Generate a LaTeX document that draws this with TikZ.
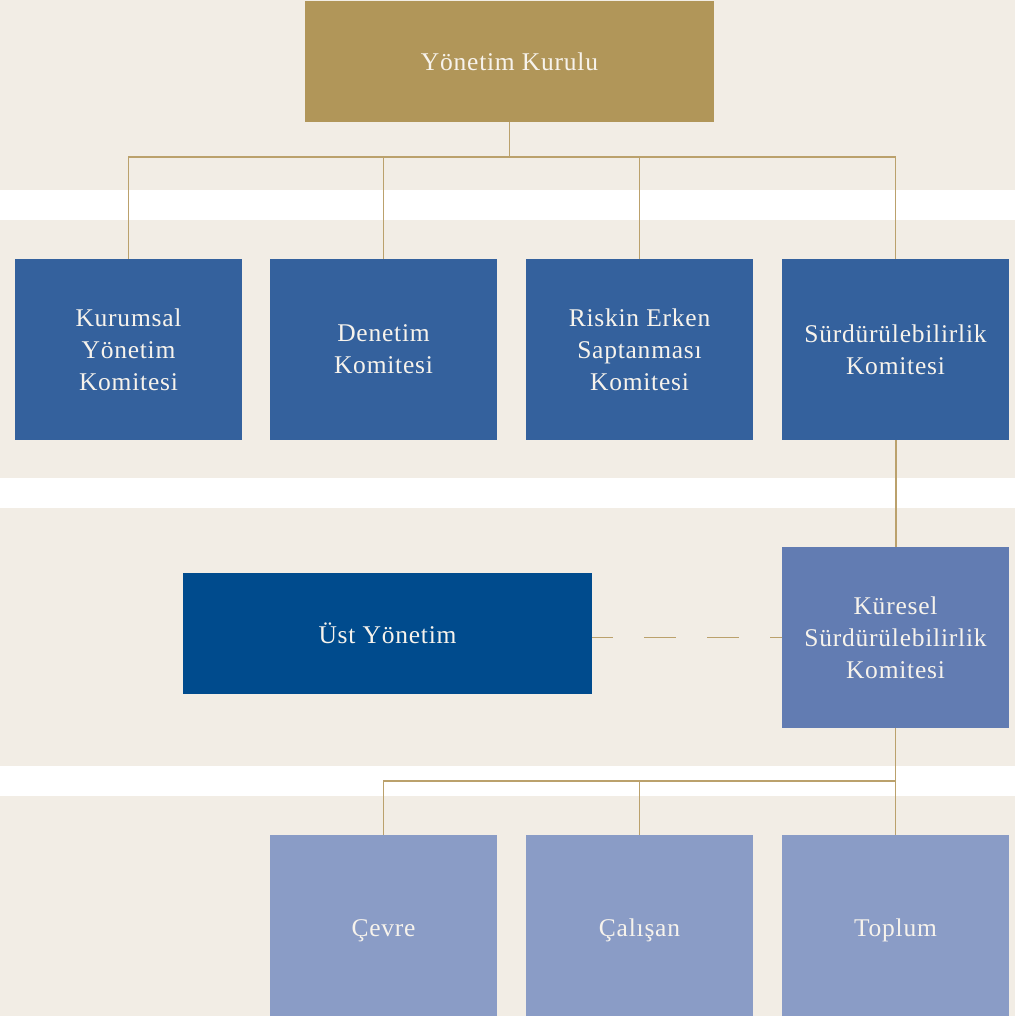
\documentclass[tikz,border=0pt]{standalone}
\usepackage{fontspec}
\setmainfont{Liberation Serif}[LetterSpace=3]
\definecolor{bgbeige}{HTML}{F2EDE5}
\definecolor{gold}{HTML}{B19659}
\definecolor{lineg}{HTML}{BBA16C}
\definecolor{bluea}{HTML}{34619D}
\definecolor{blueb}{HTML}{627CB2}
\definecolor{bluec}{HTML}{004B8D}
\definecolor{blued}{HTML}{8A9CC6}
\definecolor{txt}{HTML}{F7F3EC}
\begin{document}
\begin{tikzpicture}[x=1pt,y=-1pt,
  box/.style={draw=none,inner sep=0pt,minimum width=227pt,minimum height=181pt,
    text=txt,align=center,font=\fontsize{25.5}{32}\selectfont},
  widebox/.style={box,minimum width=409pt,minimum height=121pt},
  lowbox/.style={box,text height=27pt,text depth=6pt},
  conn/.style={draw=lineg,line width=1.3pt}]
\fill[white] (0,0) rectangle (1015,1016);
\fill[bgbeige] (0,0) rectangle (1015,190);
\fill[bgbeige] (0,220) rectangle (1015,478);
\fill[bgbeige] (0,508) rectangle (1015,766);
\fill[bgbeige] (0,796) rectangle (1015,1016);
\useasboundingbox (0,0) rectangle (1015,1016);

\node[widebox,fill=gold] (yk) at (509.5,61.5) {Yönetim Kurulu};
\node[box,fill=bluea] (k1) at (128.5,349.5) {Kurumsal\\Yönetim\\Komitesi};
\node[box,fill=bluea] (k2) at (383.5,349.5) {Denetim\\Komitesi};
\node[box,fill=bluea] (k3) at (639.5,349.5) {Riskin Erken\\Saptanması\\Komitesi};
\node[box,fill=bluea] (k4) at (895.5,349.5) {Sürdürülebilirlik\\Komitesi};
\node[widebox,fill=bluec] (ust) at (387.5,633.5) {Üst Yönetim};
\node[box,fill=blueb] (ks) at (895.5,637.5) {Küresel\\Sürdürülebilirlik\\Komitesi};
\node[lowbox,fill=blued] (b1) at (383.5,925.5) {Çevre};
\node[lowbox,fill=blued] (b2) at (639.5,925.5) {Çalışan};
\node[lowbox,fill=blued] (b3) at (895.5,925.5) {Toplum};

\coordinate (bus1) at (509.5,157);
\coordinate (bus2) at (895.5,781);
\draw[conn] (yk.south) -- (bus1);
\draw[conn] (k1.north) |- (bus1) -| (k4.north);
\draw[conn] (k2.north) -- (k2.north |- bus1);
\draw[conn] (k3.north) -- (k3.north |- bus1);
\draw[conn,line width=2pt] (k4.south) -- (ks.north);
\draw[conn] (ks.south) -- (b3.north);
\draw[conn] (b1.north) |- (bus2);
\draw[conn] (b2.north) -- (b2.north |- bus2);
\draw[conn,dash pattern=on 32pt off 31pt,dash phase=11pt] (ust.east |- ks.west) -- (ks.west);
\end{tikzpicture}
\end{document}
